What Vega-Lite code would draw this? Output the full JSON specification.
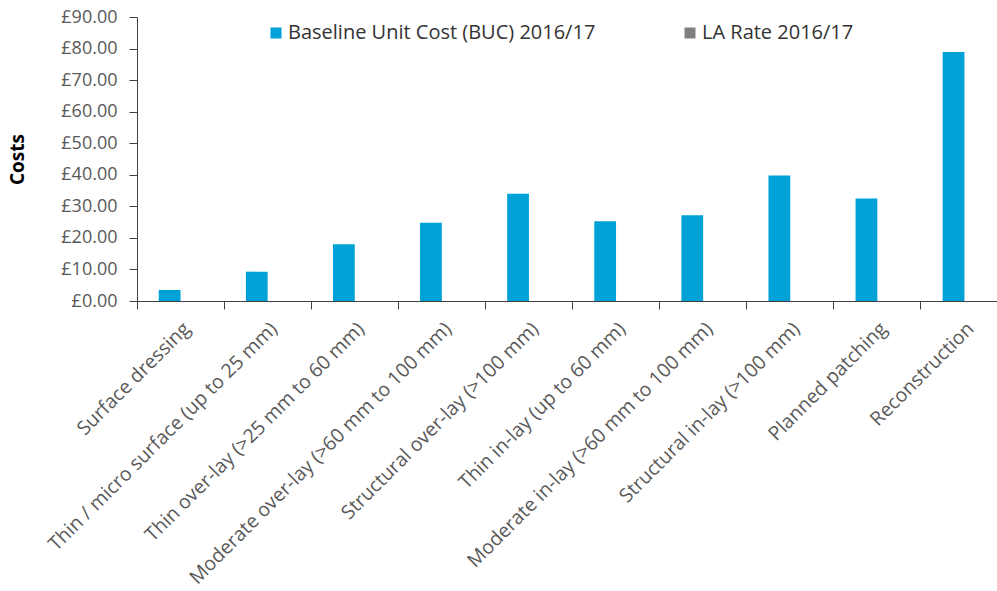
{
  "$schema": "https://vega.github.io/schema/vega-lite/v6.json",
  "autosize": {"type": "none"},
  "padding": {"left": 137, "top": 17, "right": 0, "bottom": 290},
  "width": 860,
  "height": 284,
  "background": "white",
  "config": {
    "font": "Open Sans",
    "view": {"stroke": null}
  },
  "data": {
    "values": [
      {"treatment": "Surface dressing", "series": "Baseline Unit Cost (BUC) 2016/17", "cost": 3.5},
      {"treatment": "Thin / micro surface (up to 25 mm)", "series": "Baseline Unit Cost (BUC) 2016/17", "cost": 9.3},
      {"treatment": "Thin over-lay (>25 mm to 60 mm)", "series": "Baseline Unit Cost (BUC) 2016/17", "cost": 18.0},
      {"treatment": "Moderate over-lay (>60 mm to 100 mm)", "series": "Baseline Unit Cost (BUC) 2016/17", "cost": 24.8},
      {"treatment": "Structural over-lay (>100 mm)", "series": "Baseline Unit Cost (BUC) 2016/17", "cost": 34.0},
      {"treatment": "Thin in-lay (up to 60 mm)", "series": "Baseline Unit Cost (BUC) 2016/17", "cost": 25.3},
      {"treatment": "Moderate in-lay (>60 mm to 100 mm)", "series": "Baseline Unit Cost (BUC) 2016/17", "cost": 27.2},
      {"treatment": "Structural in-lay (>100 mm)", "series": "Baseline Unit Cost (BUC) 2016/17", "cost": 39.8},
      {"treatment": "Planned patching", "series": "Baseline Unit Cost (BUC) 2016/17", "cost": 32.5},
      {"treatment": "Reconstruction", "series": "Baseline Unit Cost (BUC) 2016/17", "cost": 78.9},
      {"treatment": "Surface dressing", "series": "LA Rate 2016/17", "cost": 0},
      {"treatment": "Thin / micro surface (up to 25 mm)", "series": "LA Rate 2016/17", "cost": 0},
      {"treatment": "Thin over-lay (>25 mm to 60 mm)", "series": "LA Rate 2016/17", "cost": 0},
      {"treatment": "Moderate over-lay (>60 mm to 100 mm)", "series": "LA Rate 2016/17", "cost": 0},
      {"treatment": "Structural over-lay (>100 mm)", "series": "LA Rate 2016/17", "cost": 0},
      {"treatment": "Thin in-lay (up to 60 mm)", "series": "LA Rate 2016/17", "cost": 0},
      {"treatment": "Moderate in-lay (>60 mm to 100 mm)", "series": "LA Rate 2016/17", "cost": 0},
      {"treatment": "Structural in-lay (>100 mm)", "series": "LA Rate 2016/17", "cost": 0},
      {"treatment": "Planned patching", "series": "LA Rate 2016/17", "cost": 0},
      {"treatment": "Reconstruction", "series": "LA Rate 2016/17", "cost": 0}
    ]
  },
  "encoding": {
    "x": {
      "field": "treatment",
      "type": "nominal",
      "sort": null,
      "scale": {"range": [0, 871], "paddingInner": 0, "paddingOuter": 0}
    },
    "y": {
      "field": "cost",
      "type": "quantitative",
      "scale": {"domain": [0, 90], "nice": false},
      "axis": {
        "title": "Costs",
        "titleFont": "Open Sans",
        "titleFontSize": 19,
        "titleFontWeight": "bold",
        "titleColor": "#000000",
        "titlePadding": 33,
        "values": [0, 10, 20, 30, 40, 50, 60, 70, 80, 90],
        "labelExpr": "'£' + format(datum.value, '.2f')",
        "labelFontSize": 18,
        "labelColor": "#595959",
        "labelPadding": 12,
        "tickSize": 8,
        "tickColor": "#404040",
        "domainColor": "#404040",
        "grid": false
      }
    }
  },
  "layer": [
    {
      "mark": {"type": "bar"},
      "encoding": {
        "x": {
          "field": "treatment",
          "type": "nominal",
          "sort": null,
          "axis": {
            "orient": "bottom",
            "title": null,
            "labels": false,
            "ticks": true,
            "tickSize": 8,
            "bandPosition": 0,
            "tickColor": "#404040",
            "domainColor": "#404040",
            "grid": false
          }
        },
        "xOffset": {
          "field": "series",
          "type": "nominal",
          "scale": {"domain": ["Baseline Unit Cost (BUC) 2016/17", "LA Rate 2016/17"], "paddingInner": 0, "paddingOuter": 1.18}
        },
        "color": {
          "field": "series",
          "type": "nominal",
          "scale": {"domain": ["Baseline Unit Cost (BUC) 2016/17", "LA Rate 2016/17"], "range": ["#00A1D7", "#808080"]},
          "legend": {
            "title": null,
            "orient": "none",
            "legendX": 129,
            "legendY": 6,
            "direction": "horizontal",
            "padding": 0,
            "symbolType": "square",
            "symbolSize": 121,
            "symbolStrokeWidth": 0,
            "labelFontSize": 20,
            "labelColor": "#333333",
            "labelOffset": 2,
            "columnPadding": 84,
            "labelLimit": 400
          }
        }
      }
    },
    {
      "mark": {"type": "bar", "opacity": 0},
      "encoding": {
        "x": {
          "field": "treatment",
          "type": "nominal",
          "sort": null,
          "axis": {
            "orient": "bottom",
            "title": null,
            "labels": true,
            "ticks": false,
            "domain": false,
            "labelAngle": -45,
            "labelFontSize": 19.5,
            "labelColor": "#595959",
            "labelPadding": 18,
            "labelDx": 6,
            "labelDy": -6,
            "labelLimit": 400,
            "grid": false
          }
        }
      }
    }
  ],
  "resolve": {"axis": {"x": "independent"}}
}
